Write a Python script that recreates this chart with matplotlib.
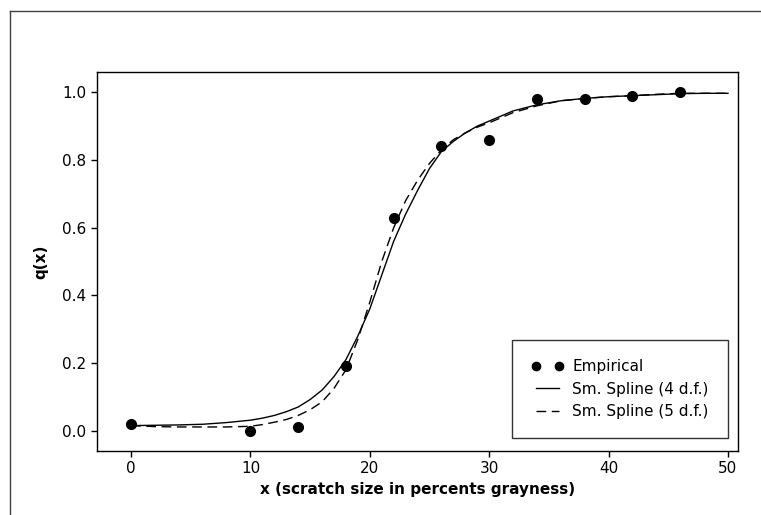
import matplotlib
matplotlib.use('Agg')
import matplotlib.pyplot as plt
from matplotlib.lines import Line2D

# empirical points
x_emp = [0, 10, 14, 18, 22, 26, 30, 34, 38, 42, 46]
q_emp = [0.02, 0.0, 0.01, 0.19, 0.63, 0.84, 0.86, 0.98, 0.98, 0.99, 1.0]

# smoothing spline curves
x_fit = [0, 2, 4, 6, 8, 10, 11, 12, 13, 14, 15, 16, 17, 18, 19, 20,
         21, 22, 23, 24, 25, 26, 27, 28, 29, 30, 32, 34, 36, 38,
         40, 42, 44, 46, 48, 50]
q_df4 = [0.015, 0.016, 0.017, 0.019, 0.024, 0.031, 0.037, 0.045, 0.056, 0.07,
         0.092, 0.12, 0.16, 0.21, 0.28, 0.36, 0.46, 0.56, 0.64, 0.71,
         0.775, 0.825, 0.855, 0.88, 0.90, 0.915, 0.945, 0.963, 0.975, 0.982,
         0.987, 0.99, 0.993, 0.996, 0.997, 0.997]
q_df5 = [0.015, 0.012, 0.011, 0.011, 0.011, 0.013, 0.018, 0.025, 0.033, 0.045,
         0.062, 0.085, 0.125, 0.18, 0.27, 0.38, 0.50, 0.60, 0.68, 0.74,
         0.79, 0.83, 0.86, 0.88, 0.897, 0.91, 0.94, 0.96, 0.975, 0.982,
         0.987, 0.99, 0.994, 0.997, 0.997, 0.997]

plt.rcParams['font.family'] = 'DejaVu Sans'

fig = plt.figure(figsize=(7.61, 5.15), dpi=100)
ax = fig.add_axes([0.1275, 0.1243, 0.8423, 0.7359])

# outer frame (top and left only)
fig.add_artist(Line2D([10/761, 1.0], [1 - 11/515, 1 - 11/515], color='#404040', lw=1))
fig.add_artist(Line2D([10/761, 10/761], [1 - 11/515, 0.0], color='#404040', lw=1))

ax.plot(x_emp, q_emp, 'o', color='black', markersize=7, label='Empirical')
ax.plot(x_fit, q_df4, '-', color='black', lw=1, label='Sm. Spline (4 d.f.)')
ax.plot(x_fit, q_df5, '--', color='black', lw=1, dashes=(7, 4), label='Sm. Spline (5 d.f.)')

ax.set_xlim(-2.85, 50.84)
ax.set_ylim(-0.06, 1.06)
ax.set_xticks([0, 10, 20, 30, 40, 50])
ax.set_yticks([0.0, 0.2, 0.4, 0.6, 0.8, 1.0])
ax.set_yticklabels(['0.0', '0.2', '0.4', '0.6', '0.8', '1.0'])
ax.tick_params(direction='out', length=4, width=1, labelsize=11, top=False, right=False)
for s in ax.spines.values():
    s.set_linewidth(1)

ax.set_xlabel('x (scratch size in percents grayness)', fontsize=11, fontweight='bold', labelpad=4)
ax.set_ylabel('q(x)', fontsize=11, fontweight='bold', labelpad=10)

leg = ax.legend(loc='lower right', bbox_to_anchor=(0.984, 0.0335), borderaxespad=0,
                numpoints=2, fancybox=False, edgecolor='black', fontsize=11,
                handlelength=2.1, handletextpad=0.6, labelspacing=0.5,
                borderpad=1.25, markerscale=0.85)
leg.get_frame().set_linewidth(1)

fig.savefig('out.png', dpi=100)
